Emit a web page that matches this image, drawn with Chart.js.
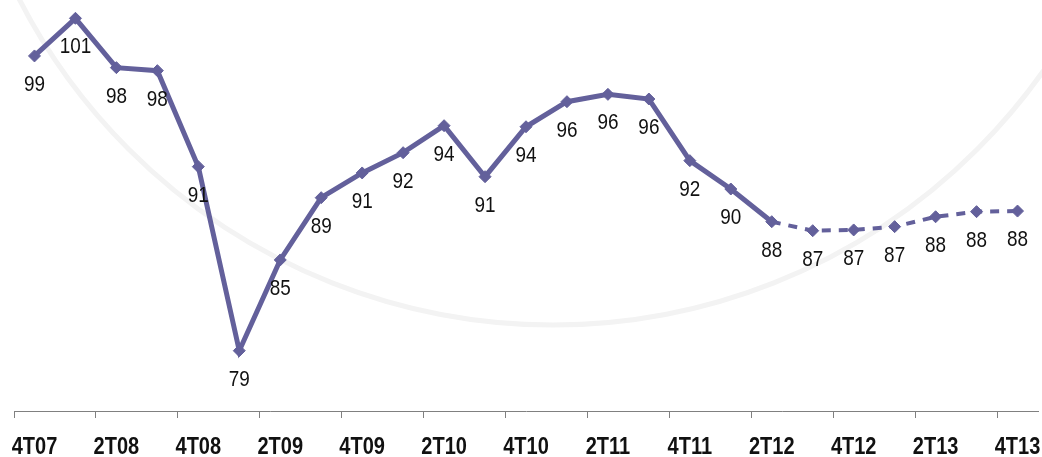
<!DOCTYPE html>
<html>
<head>
<meta charset="utf-8">
<script src="https://cdn.jsdelivr.net/npm/chart.js@4/dist/chart.umd.min.js"></script>
<style>
  html, body { margin: 0; padding: 0; background: #ffffff; }
  #wrap { position: relative; width: 1042px; height: 457px; }
</style>
</head>
<body>
<div id="wrap"><canvas id="c"></canvas></div>
<script>
// Quarters (categories)
const quarters = ['4T07','1T08','2T08','3T08','4T08','1T09','2T09','3T09','4T09','1T10','2T10','3T10','4T10',
                  '1T11','2T11','3T11','4T11','1T12','2T12','3T12','4T12','1T13','2T13','3T13','4T13'];
// Index values (labels show the rounded value)
const values = [98.67, 101.18, 97.89, 97.69, 91.29, 79.02, 85.07, 89.22, 90.87, 92.22, 94.02, 90.62, 93.95,
                95.62, 96.11, 95.80, 91.69, 89.80, 87.62, 87.02, 87.07, 87.29, 87.95, 88.29, 88.33];
// Labels printed under each point
const pointLabels = [99, 101, 98, 98, 91, 79, 85, 89, 91, 92, 94, 91, 94, 96, 96, 96, 92, 90, 88, 87, 87, 87, 88, 88, 88];
// Index from which the series is a projection (dashed)
const projectionStart = 18;

const LINE = '#63609b';
const FONT = "'Liberation Sans', Arial, sans-serif";

// Category scale whose labels are drawn horizontally condensed (like Arial Narrow)
class NarrowCategoryScale extends Chart.CategoryScale {
  _calculatePadding() {
    this.paddingLeft = 0; this.paddingRight = 0; this.paddingTop = 0; this.paddingBottom = 0;
  }
  drawLabels(chartArea) {
    const ctx = this.ctx;
    const orig = ctx.fillText;
    ctx.fillText = function (t, x, y, mw) {
      this.save();
      this.translate(x, y);
      this.scale(0.87, 1);
      orig.call(this, t, 0, 0);
      this.restore();
    };
    try { super.drawLabels(chartArea); } finally { ctx.fillText = orig; }
  }
}
NarrowCategoryScale.id = 'narrowCategory';
NarrowCategoryScale.defaults = Chart.CategoryScale.defaults;
Chart.register(NarrowCategoryScale);

const watermark = {
  id: 'watermark',
  beforeDraw(chart) {
    const ctx = chart.ctx;
    ctx.save();
    ctx.strokeStyle = '#f3f3f3';
    ctx.lineWidth = 5;
    ctx.beginPath();
    ctx.arc(553, -275, 600, 0, Math.PI);
    ctx.stroke();
    ctx.restore();
  }
};

const valueLabels = {
  id: 'valueLabels',
  afterDatasetsDraw(chart) {
    const ctx = chart.ctx;
    const meta = chart.getDatasetMeta(0);
    ctx.save();
    ctx.font = '22px ' + FONT;
    ctx.fillStyle = '#111111';
    ctx.textAlign = 'center';
    ctx.textBaseline = 'middle';
    meta.data.forEach((pt, i) => {
      ctx.save();
      ctx.translate(pt.x, pt.y + 29);
      ctx.scale(0.86, 1);
      ctx.fillText(String(pointLabels[i]), 0, 0);
      ctx.restore();
    });
    ctx.restore();
  }
};

new Chart(document.getElementById('c'), {
  type: 'line',
  data: {
    labels: quarters,
    datasets: [{
      data: values,
      borderColor: LINE,
      backgroundColor: LINE,
      borderWidth: 5,
      pointStyle: 'rectRot',
      pointRadius: 6,
      pointBorderWidth: 1,
      pointBackgroundColor: LINE,
      pointBorderColor: LINE,
      tension: 0,
      clip: false,
      segment: {
        borderDash: ctx => ctx.p0DataIndex >= projectionStart ? [9, 8] : undefined,
        borderWidth: ctx => ctx.p0DataIndex >= projectionStart ? 4 : 5
      }
    }]
  },
  options: {
    responsive: true,
    maintainAspectRatio: false,
    animation: false,
    layout: { autoPadding: false, padding: { left: 14, right: 4, top: 0, bottom: 0 } },
    plugins: { legend: { display: false }, tooltip: { enabled: false } },
    scales: {
      y: { display: false, min: 75, max: 102.4 },
      x: {
        type: 'narrowCategory',
        offset: true,
        grid: {
          offset: true,
          drawOnChartArea: false,
          drawTicks: true,
          tickLength: 7,
          color: ctx => (ctx.index !== undefined && ctx.index % 2 === 0) ? '#808080' : 'rgba(0,0,0,0)'
        },
        border: { display: true, color: '#808080', width: 1 },
        ticks: {
          autoSkip: false,
          maxRotation: 0,
          padding: 16,
          color: '#111111',
          font: { family: FONT, size: 23, weight: 'bold' },
          callback: (v, i) => i % 2 === 0 ? quarters[i] : ''
        },
        afterFit: s => { s.height = 46; }
      }
    }
  },
  plugins: [watermark, valueLabels]
});
</script>
</body>
</html>
